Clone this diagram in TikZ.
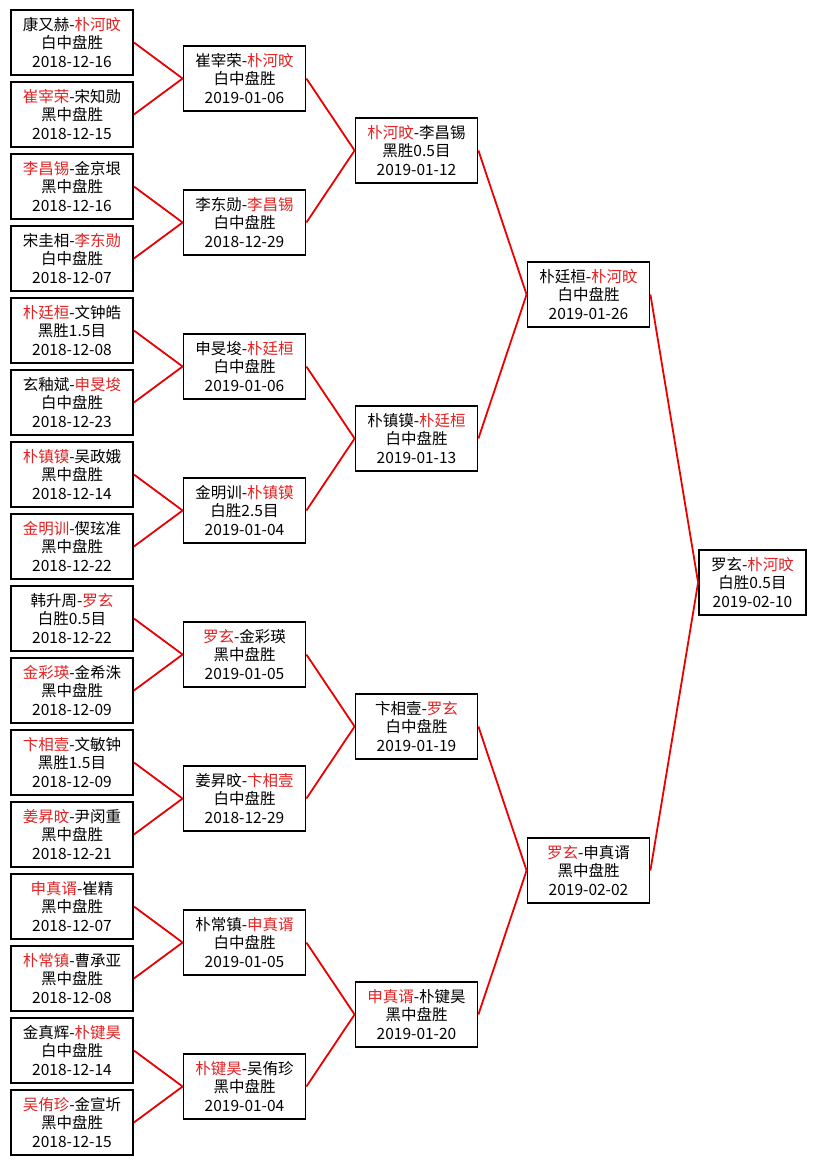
\documentclass[tikz,border=0pt]{standalone}
\usepackage{fontspec}
\setmainfont{Noto Sans CJK SC}
\usepackage{xcolor}
\definecolor{winred}{RGB}{225,35,35}
\definecolor{linkred}{RGB}{235,0,0}

\begin{document}
\begin{tikzpicture}[x=1pt,y=-1pt]
		\tikzstyle{match}=[draw=black, line width=1.8pt, fill=white, rectangle, minimum width=122pt, minimum height=65pt, inner sep=0pt, align=center, font=\fontsize{15.5}{18.5}\selectfont]
		\tikzstyle{link}=[draw=linkred, line width=1.8pt]
		\fill [white] (0,0) rectangle (816,1165);
		\useasboundingbox (0,0) rectangle (816,1165);
		% first round
		\node [match] (a1) at (72,42.5) {康又赫-\textcolor{winred}{朴河旼}\\白中盘胜\\2018-12-16};
		\node [match] (a2) at (72,114.5) {\textcolor{winred}{崔宰荣}-宋知勋\\黑中盘胜\\2018-12-15};
		\node [match] (a3) at (72,186.5) {\textcolor{winred}{李昌锡}-金京垠\\黑中盘胜\\2018-12-16};
		\node [match] (a4) at (72,258.5) {宋圭相-\textcolor{winred}{李东勋}\\白中盘胜\\2018-12-07};
		\node [match] (a5) at (72,330.5) {\textcolor{winred}{朴廷桓}-文钟皓\\黑胜1.5目\\2018-12-08};
		\node [match] (a6) at (72,402.5) {玄釉斌-\textcolor{winred}{申旻埈}\\白中盘胜\\2018-12-23};
		\node [match] (a7) at (72,474.5) {\textcolor{winred}{朴镇镆}-吴政娥\\黑中盘胜\\2018-12-14};
		\node [match] (a8) at (72,546.5) {\textcolor{winred}{金明训}-偰玹准\\黑中盘胜\\2018-12-22};
		\node [match] (a9) at (72,618.5) {韩升周-\textcolor{winred}{罗玄}\\白胜0.5目\\2018-12-22};
		\node [match] (a10) at (72,690.5) {\textcolor{winred}{金彩瑛}-金希洙\\黑中盘胜\\2018-12-09};
		\node [match] (a11) at (72,762.5) {\textcolor{winred}{卞相壹}-文敏钟\\黑胜1.5目\\2018-12-09};
		\node [match] (a12) at (72,834.5) {\textcolor{winred}{姜昇旼}-尹闵重\\黑中盘胜\\2018-12-21};
		\node [match] (a13) at (72,906.5) {\textcolor{winred}{申真谞}-崔精\\黑中盘胜\\2018-12-07};
		\node [match] (a14) at (72,978.5) {\textcolor{winred}{朴常镇}-曹承亚\\黑中盘胜\\2018-12-08};
		\node [match] (a15) at (72,1050.5) {金真辉-\textcolor{winred}{朴键昊}\\白中盘胜\\2018-12-14};
		\node [match] (a16) at (72,1122.5) {\textcolor{winred}{吴侑珍}-金宣圻\\黑中盘胜\\2018-12-15};
		% second round
		\node [match] (b1) at (244.5,78.5) {崔宰荣-\textcolor{winred}{朴河旼}\\白中盘胜\\2019-01-06};
		\node [match] (b2) at (244.5,222.5) {李东勋-\textcolor{winred}{李昌锡}\\白中盘胜\\2018-12-29};
		\node [match] (b3) at (244.5,366.5) {申旻埈-\textcolor{winred}{朴廷桓}\\白中盘胜\\2019-01-06};
		\node [match] (b4) at (244.5,510.5) {金明训-\textcolor{winred}{朴镇镆}\\白胜2.5目\\2019-01-04};
		\node [match] (b5) at (244.5,654.5) {\textcolor{winred}{罗玄}-金彩瑛\\黑中盘胜\\2019-01-05};
		\node [match] (b6) at (244.5,798.5) {姜昇旼-\textcolor{winred}{卞相壹}\\白中盘胜\\2018-12-29};
		\node [match] (b7) at (244.5,942.5) {朴常镇-\textcolor{winred}{申真谞}\\白中盘胜\\2019-01-05};
		\node [match] (b8) at (244.5,1086.5) {\textcolor{winred}{朴键昊}-吴侑珍\\黑中盘胜\\2019-01-04};
		% quarter finals
		\node [match] (c1) at (416.5,150.5) {\textcolor{winred}{朴河旼}-李昌锡\\黑胜0.5目\\2019-01-12};
		\node [match] (c2) at (416.5,438.5) {朴镇镆-\textcolor{winred}{朴廷桓}\\白中盘胜\\2019-01-13};
		\node [match] (c3) at (416.5,726.5) {卞相壹-\textcolor{winred}{罗玄}\\白中盘胜\\2019-01-19};
		\node [match] (c4) at (416.5,1014.5) {\textcolor{winred}{申真谞}-朴键昊\\黑中盘胜\\2019-01-20};
		% semi finals
		\node [match] (d1) at (588.5,294.5) {朴廷桓-\textcolor{winred}{朴河旼}\\白中盘胜\\2019-01-26};
		\node [match] (d2) at (588.5,870.5) {\textcolor{winred}{罗玄}-申真谞\\黑中盘胜\\2019-02-02};
		% final
		\node [match, minimum width=107pt] (f) at (752.5,582.5) {罗玄-\textcolor{winred}{朴河旼}\\白胜0.5目\\2019-02-10};
		% links
		\draw [link] (a1.east) -- (b1.west);
		\draw [link] (a2.east) -- (b1.west);
		\draw [link] (a3.east) -- (b2.west);
		\draw [link] (a4.east) -- (b2.west);
		\draw [link] (a5.east) -- (b3.west);
		\draw [link] (a6.east) -- (b3.west);
		\draw [link] (a7.east) -- (b4.west);
		\draw [link] (a8.east) -- (b4.west);
		\draw [link] (a9.east) -- (b5.west);
		\draw [link] (a10.east) -- (b5.west);
		\draw [link] (a11.east) -- (b6.west);
		\draw [link] (a12.east) -- (b6.west);
		\draw [link] (a13.east) -- (b7.west);
		\draw [link] (a14.east) -- (b7.west);
		\draw [link] (a15.east) -- (b8.west);
		\draw [link] (a16.east) -- (b8.west);
		\draw [link] (b1.east) -- (c1.west);
		\draw [link] (b2.east) -- (c1.west);
		\draw [link] (b3.east) -- (c2.west);
		\draw [link] (b4.east) -- (c2.west);
		\draw [link] (b5.east) -- (c3.west);
		\draw [link] (b6.east) -- (c3.west);
		\draw [link] (b7.east) -- (c4.west);
		\draw [link] (b8.east) -- (c4.west);
		\draw [link] (c1.east) -- (d1.west);
		\draw [link] (c2.east) -- (d1.west);
		\draw [link] (c3.east) -- (d2.west);
		\draw [link] (c4.east) -- (d2.west);
		\draw [link] (d1.east) -- (f.west);
		\draw [link] (d2.east) -- (f.west);
	\end{tikzpicture}
\end{document}
